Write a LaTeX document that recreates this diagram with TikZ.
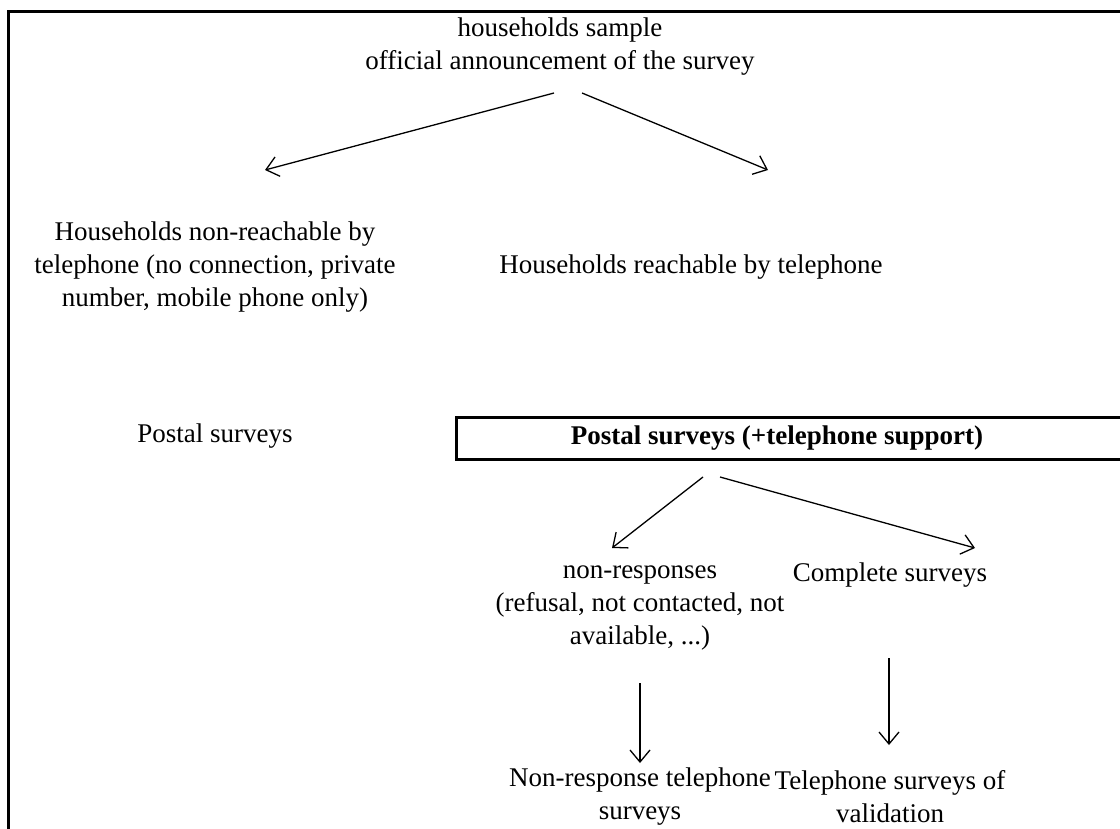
\documentclass[tikz,border=0pt]{standalone}
\usepackage{fontspec}
\setmainfont{Liberation Serif}
\usetikzlibrary{arrows.meta}
\tikzset{
  txt/.style={align=center, inner sep=0pt, font=\fontsize{27}{33}\selectfont},
  boldtxt/.style={txt, font=\fontsize{27}{33}\selectfont\bfseries},
  conn/.style={line width=1.3, -{Straight Barb[length=12, width=20, line width=1.3]}},
  thickconn/.style={line width=2.2, -{Straight Barb[length=12, width=20, line width=1.3]}},
  frame/.style={line width=3},
  boxst/.style={draw, line width=3, inner sep=0pt, minimum height=42, minimum width=666}
}
\begin{document}
\begin{tikzpicture}[x=1pt, y=-1pt]
\clip (0,0) rectangle (1120,828);
\fill[white] (0,0) rectangle (1120,828);
\draw[frame] (8,830) -- (8,11) -- (1122,11);

\node[txt] (top) at (560,47) {households sample\\official announcement of the survey};
\node[txt] (nonreach) at (215,267) {Households non-reachable by\\telephone (no connection, private\\number, mobile phone only)};
\node[txt] (reach) at (691,267) {Households reachable by telephone};
\node[txt] (postal) at (215,436) {Postal surveys};
\node[boxst] (box) at (789,438) {};
\node[boldtxt] (boxlabel) at (777,438) {Postal surveys (+telephone support)};
\node[txt] (nonresp) at (640,608) {non-responses\\(refusal, not contacted, not\\available, ...)};
\node[txt] (complete) at (890,575) {Complete surveys};
\node[txt] (nrtel) at (640,797) {Non-response telephone\\surveys};
\node[txt] (valid) at (890,797) {Telephone surveys of\\validation};

\coordinate (t1) at (554,93);
\coordinate (t2) at (582,93);
\coordinate (h1) at (265,170);
\coordinate (h2) at (768,170);
\coordinate (b1) at (703,477);
\coordinate (b2) at (720,477);
\coordinate (n1) at (612,548);
\coordinate (c1) at (975,548);
\coordinate (d1s) at (640,683);
\coordinate (d1e) at (640,763);
\coordinate (d2s) at (889,658);
\coordinate (d2e) at (889,745);

\draw[conn] (t1) -- (h1);
\draw[conn] (t2) -- (h2);
\draw[conn] (b1) -- (n1);
\draw[conn] (b2) -- (c1);
\draw[thickconn] (d1s) -- (d1e);
\draw[conn] (d2s) -- (d2e);
\end{tikzpicture}
\end{document}
